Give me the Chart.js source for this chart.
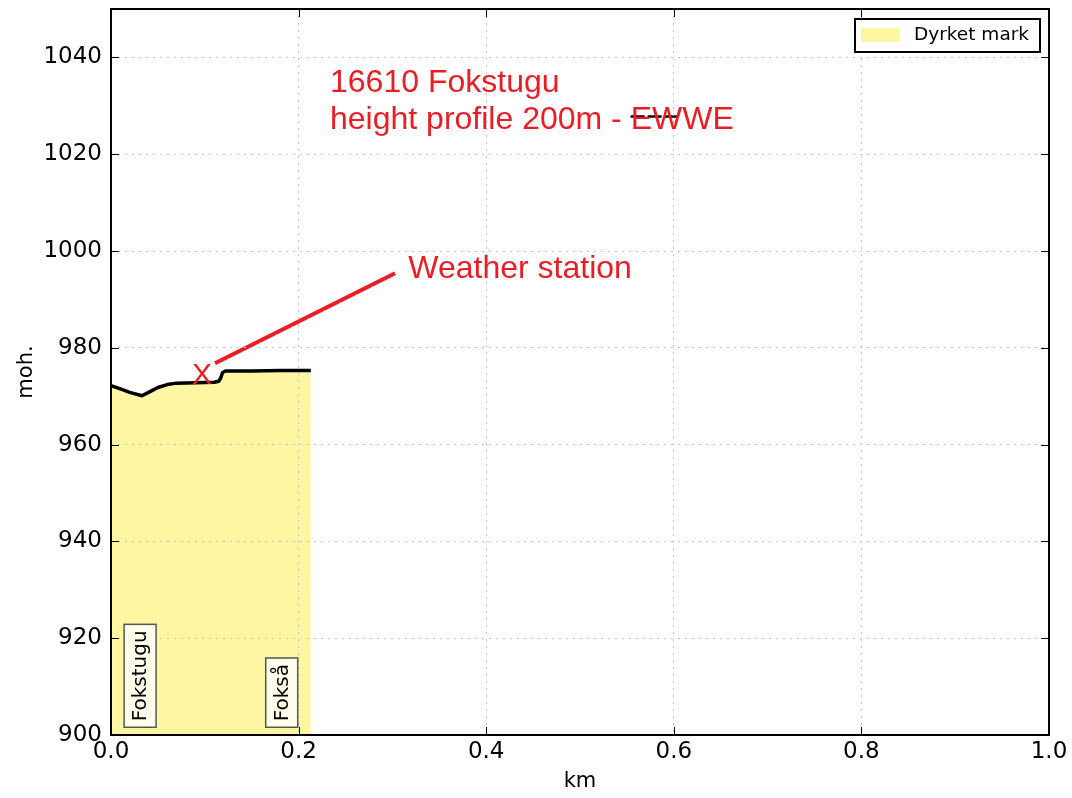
<!DOCTYPE html>
<html>
<head>
<meta charset="utf-8">
<script src="https://cdn.jsdelivr.net/npm/chart.js@4.4.0/dist/chart.umd.min.js"></script>
<style>
  html, body { margin: 0; padding: 0; background: #fff; }
</style>
</head>
<body>
<canvas id="profileChart" width="1072" height="798"></canvas>
<script>
// terrain profile, distance along the line (km) and height (moh.)
const distanceKm = [0.000, 0.010, 0.020, 0.033, 0.040, 0.050, 0.060, 0.070, 0.090, 0.110, 0.115, 0.117, 0.119, 0.122, 0.150, 0.180, 0.213];
const heightM = [972.2, 971.5, 970.8, 970.1, 970.8, 971.8, 972.4, 972.7, 972.8, 972.9, 973.1, 973.8, 974.9, 975.2, 975.2, 975.3, 975.3];

const xTicks = [0.0, 0.2, 0.4, 0.6, 0.8, 1.0];
const yTicks = [900, 920, 940, 960, 980, 1000, 1020, 1040];

const landUseLabel = 'Dyrket mark';

// place names along the profile
const placeNames = ['Fokstugu', 'Fokså'];
const placeKm = [0.031, 0.182];

// weather station and its note
const stationKm = 0.097;
const stationM = 974.4;
const stationNote = 'Weather station';
const noteKm = 0.317;
const noteM = 996.3;
const leaderKm = [0.1109, 0.3028];
const leaderM = [976.8, 995.4];

// heading text, with the corrected direction struck out
const headingLines = ['16610 Fokstugu', 'height profile 200m - EWWE'];
const headingKm = 0.2335;
const headingM = [1032.8, 1025.2];
const struckKm = [0.554, 0.606];
const struckM = 1027.8;

const YELLOW = '#fff6a3';
const RED = '#ed1c24';

const profile = distanceKm.map((d, i) => ({ x: d, y: heightM[i] }));

const overlay = {
  id: 'overlay',
  afterDraw(chart) {
    const { ctx, chartArea: a, scales: { x, y } } = chart;
    ctx.save();

    // frame and inward ticks on all four sides
    ctx.strokeStyle = '#000';
    ctx.lineWidth = 1;
    xTicks.forEach(v => {
      const px = Math.round(x.getPixelForValue(v)) + 0.5;
      ctx.beginPath();
      ctx.moveTo(px, a.bottom); ctx.lineTo(px, a.bottom - 8);
      ctx.moveTo(px, a.top); ctx.lineTo(px, a.top + 8);
      ctx.stroke();
    });
    yTicks.forEach(v => {
      const py = Math.round(y.getPixelForValue(v)) + 0.5;
      ctx.beginPath();
      ctx.moveTo(a.left, py); ctx.lineTo(a.left + 8, py);
      ctx.moveTo(a.right, py); ctx.lineTo(a.right - 8, py);
      ctx.stroke();
    });
    ctx.lineWidth = 2;
    ctx.strokeRect(a.left, a.top, a.right - a.left, a.bottom - a.top);

    // place name boxes, rotated
    ctx.font = '20px "DejaVu Sans"';
    placeNames.forEach((name, i) => {
      const cx = x.getPixelForValue(placeKm[i]);
      const by = y.getPixelForValue(901.6);
      const w = ctx.measureText(name).width;
      const pad = 6;
      const bw = 32, bh = w + pad * 2;
      ctx.fillStyle = 'rgba(255,254,240,0.92)';
      ctx.strokeStyle = '#555';
      ctx.lineWidth = 1.5;
      ctx.fillRect(cx - bw / 2, by - bh, bw, bh);
      ctx.strokeRect(cx - bw / 2, by - bh, bw, bh);
      ctx.save();
      ctx.translate(cx, by - pad);
      ctx.rotate(-Math.PI / 2);
      ctx.fillStyle = '#000';
      ctx.textAlign = 'left';
      ctx.textBaseline = 'middle';
      ctx.fillText(name, 0, 1);
      ctx.restore();
    });

    // red notes
    ctx.fillStyle = RED;
    ctx.font = '32px "Liberation Sans"';
    ctx.textAlign = 'left';
    ctx.textBaseline = 'alphabetic';
    headingLines.forEach((line, i) => {
      ctx.fillText(line, x.getPixelForValue(headingKm), y.getPixelForValue(headingM[i]));
    });
    ctx.textBaseline = 'middle';
    ctx.fillText(stationNote, x.getPixelForValue(noteKm), y.getPixelForValue(noteM));
    ctx.font = '30px "Liberation Sans"';
    ctx.textAlign = 'center';
    ctx.fillText('X', x.getPixelForValue(stationKm), y.getPixelForValue(stationM) + 1);

    // legend
    const lx = 855, ly = 19, lw = 185, lh = 33;
    ctx.fillStyle = '#fff';
    ctx.fillRect(lx, ly, lw, lh);
    ctx.strokeStyle = '#000';
    ctx.lineWidth = 2;
    ctx.strokeRect(lx, ly, lw, lh);
    ctx.fillStyle = YELLOW;
    ctx.fillRect(lx + 6, ly + 9, 39, 14);
    ctx.fillStyle = '#000';
    ctx.font = '18.5px "DejaVu Sans"';
    ctx.textAlign = 'left';
    ctx.textBaseline = 'middle';
    ctx.fillText(landUseLabel, lx + 59, ly + lh / 2);

    ctx.restore();
  }
};

new Chart(document.getElementById('profileChart'), {
  type: 'line',
  data: {
    datasets: [
      {
        label: landUseLabel,
        data: profile,
        borderColor: '#000',
        borderWidth: 3.5,
        backgroundColor: YELLOW,
        fill: 'start',
        pointRadius: 0,
        borderJoinStyle: 'round',
        tension: 0
      },
      {
        label: 'leader',
        data: leaderKm.map((d, i) => ({ x: d, y: leaderM[i] })),
        borderColor: RED,
        borderWidth: 4,
        pointRadius: 0,
        fill: false
      },
      {
        label: 'struck',
        data: struckKm.map(d => ({ x: d, y: struckM })),
        borderColor: '#000',
        borderWidth: 2.5,
        borderDash: [14, 3],
        pointRadius: 0,
        fill: false
      }
    ]
  },
  options: {
    responsive: false,
    animation: false,
    layout: { padding: { top: 9, right: 23, left: 0, bottom: 0 } },
    plugins: {
      legend: { display: false },
      tooltip: { enabled: false }
    },
    scales: {
      x: {
        type: 'linear',
        min: 0,
        max: 1,
        afterBuildTicks: s => { s.ticks = xTicks.map(v => ({ value: v })); },
        afterFit: s => { s.height = 63; },
        ticks: {
          color: '#000',
          padding: 3,
          font: { family: 'DejaVu Sans', size: 23 },
          callback: v => v.toFixed(1)
        },
        grid: { color: '#c4c4c4', lineWidth: 1, drawTicks: false, z: 1 },
        border: { display: false, dash: [2, 5] },
        title: {
          display: true,
          text: 'km',
          color: '#000',
          font: { family: 'DejaVu Sans', size: 21 },
          padding: { top: 0, bottom: 4 }
        }
      },
      y: {
        min: 900,
        max: 1050,
        afterBuildTicks: s => { s.ticks = yTicks.map(v => ({ value: v })); },
        afterFit: s => { s.width = 111; s.paddingTop = 0; s.paddingBottom = 0; },
        ticks: {
          color: '#000',
          padding: 9,
          font: { family: 'DejaVu Sans', size: 23 },
          callback: v => String(v)
        },
        grid: { color: '#c4c4c4', lineWidth: 1, drawTicks: false, z: 1 },
        border: { display: false, dash: [2, 5] },
        title: {
          display: true,
          text: 'moh.',
          color: '#000',
          font: { family: 'DejaVu Sans', size: 21 },
          padding: { top: 14, bottom: 0 }
        }
      }
    }
  },
  plugins: [overlay]
});
</script>
</body>
</html>
